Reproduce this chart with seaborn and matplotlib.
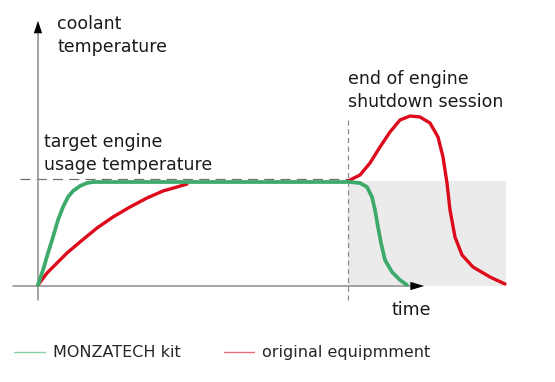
import numpy as np
import pandas as pd
import seaborn as sns
import matplotlib.pyplot as plt

# curve samples (time, coolant temperature), arbitrary units
green_time = [0, 5, 10, 15, 20, 25, 30, 35, 42, 49, 55, 312, 322, 329, 334, 337, 340, 343,
              347, 354, 362, 369]
green_temp = [1, 16, 33, 49, 66, 79, 89, 95, 100, 103, 104, 104, 103, 99, 89, 76, 59, 43,
              26, 14, 6, 1]

red_warm_time = [0, 9, 19, 29, 42, 59, 75, 92, 109, 125, 139, 149]
red_warm_temp = [1, 13, 23, 33, 44, 58, 69, 79, 88, 95, 99, 102]

red_stop_time = [310, 322, 332, 342, 352, 362, 372, 382, 392, 400, 405, 409, 412, 417, 424,
                 435, 452, 467]
red_stop_temp = [105, 111, 123, 139, 154, 166, 170, 169, 163, 149, 129, 103, 76, 49, 31,
                 19, 9, 2]

target_temp = 107
shutdown_time = 310
box_end = 468
box_top = 105

GREEN = "#3daa6b"
RED = "#dd0a1c"
AXIS = "#8c8c8c"

sns.set_style("white")
plt.rcParams['font.family'] = ['DejaVu Sans']

fig = plt.figure(figsize=(5.55, 3.82), dpi=100)
ax = fig.add_axes([0, 0, 1, 1])

# shaded shutdown band
ax.fill_between([shutdown_time, box_end], 0, box_top, color="#ebebeb", lw=0, zorder=0)

# dashed guides
ax.plot([-18, shutdown_time], [target_temp, target_temp], color="#707070", lw=0.9,
        dashes=(8, 5), zorder=1)
ax.plot([shutdown_time, shutdown_time], [-14, 168], color="#8a8a8a", lw=0.9,
        dashes=(4, 3), zorder=1)

# axes with arrows
ax.plot([0, 0], [-14, 258], color=AXIS, lw=1.1, zorder=1)
ax.annotate("", xy=(0, 268), xytext=(0, 250),
            arrowprops=dict(arrowstyle="-|>,head_length=0.9,head_width=0.3", color="black", lw=0))
ax.plot([-25, 376], [0, 0], color=AXIS, lw=1.1, zorder=1)
ax.annotate("", xy=(389, 0), xytext=(370, 0),
            arrowprops=dict(arrowstyle="-|>,head_length=1.0,head_width=0.3", color="black", lw=0))

# curves
sns.lineplot(x=red_warm_time, y=red_warm_temp, sort=False, color=RED, lw=2.4,
             label="original equipmment", ax=ax, zorder=3)
sns.lineplot(x=red_stop_time, y=red_stop_temp, sort=False, color=RED, lw=2.4, ax=ax, zorder=3)
sns.lineplot(x=green_time, y=green_temp, sort=False, color=GREEN, lw=2.7,
             label="MONZATECH kit", ax=ax, zorder=4)
for ln in ax.get_lines():
    ln.set_solid_joinstyle("round")
ax.set_xlim(-38, 517)
ax.set_ylim(-96, 286)
ax.axis("off")

fs = 12.5
ax.text(19, 271, "coolant\ntemperature", fontsize=fs, va="top", ha="left", color="#1a1a1a",
        linespacing=1.35)
ax.text(6, 153, "target engine\nusage temperature", fontsize=fs, va="top", ha="left",
        color="#1a1a1a", linespacing=1.35)
ax.text(310, 216, "end of engine\nshutdown session", fontsize=fs, va="top", ha="left",
        color="#1a1a1a", linespacing=1.35)
ax.text(373, -15, "time", fontsize=fs, va="top", ha="center", color="#1a1a1a")

handles, labels = ax.get_legend_handles_labels()
order = [labels.index("MONZATECH kit"), labels.index("original equipmment")]
leg = ax.legend([handles[i] for i in order], [labels[i] for i in order],
                loc="center left", bbox_to_anchor=(0.0, 0.076), ncol=2, frameon=False,
                fontsize=11.5, handlelength=1.9, handletextpad=0.5, columnspacing=2.7)
for h in leg.get_lines():
    h.set_linewidth(1.0)
    h.set_alpha(0.6)

fig.savefig("out.png", dpi=100)
